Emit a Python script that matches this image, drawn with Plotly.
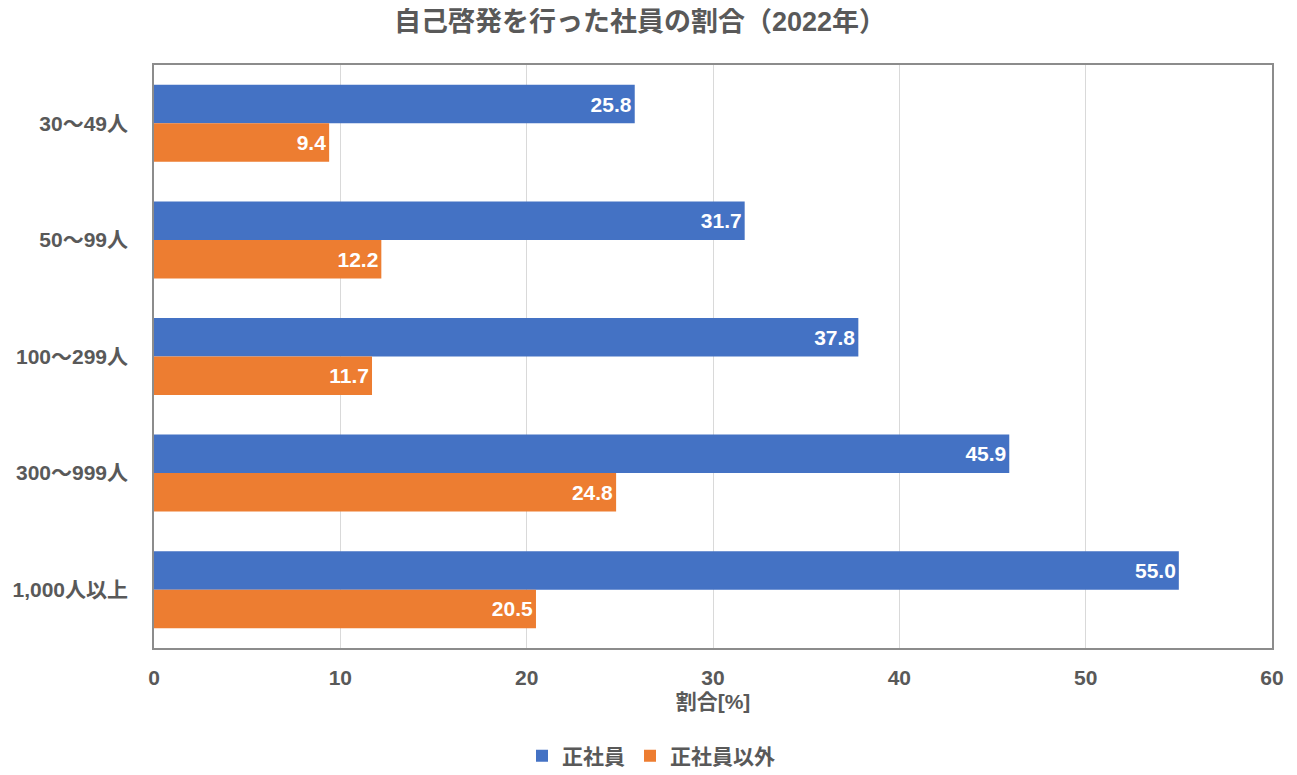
import plotly.graph_objects as go

categories = ["30～49人", "50～99人", "100～299人", "300～999人", "1,000人以上"]
regular = [25.8, 31.7, 37.8, 45.9, 55.0]
non_regular = [9.4, 12.2, 11.7, 24.8, 20.5]
series_names = ["正社員", "正社員以外"]
title = "自己啓発を行った社員の割合（2022年）"
x_title = "割合[%]"

FONT = "Liberation Sans, Noto Sans CJK JP"
NARROW = "Liberation Sans Narrow, Liberation Sans, Noto Sans CJK JP"
GRAY = "#595959"

# page has an 8px body margin; figure size/margins compensate
W, H = 1281, 759
L, R, T, B = 146, 17, 57, 119

fig = go.Figure()
for name, vals, color in [(series_names[0], regular, "#4472C4"),
                          (series_names[1], non_regular, "#ED7D31")]:
    fig.add_trace(go.Bar(
        y=categories, x=vals, name=name, orientation="h",
        marker=dict(color=color, line=dict(width=0)),
        text=[f"{v:.1f}" for v in vals], textposition="inside",
        insidetextanchor="end",
        textfont=dict(color="white", size=21, family=NARROW, weight="bold"),
        cliponaxis=False,
    ))

plot_h = H - T - B
plot_w = W - L - R
fig.update_layout(
    width=W, height=H,
    paper_bgcolor="white", plot_bgcolor="white",
    barmode="group", bargap=0.34, bargroupgap=0,
    margin=dict(l=L, r=R, t=T, b=B, autoexpand=False),
    font=dict(family=FONT, color=GRAY, size=21, weight="bold"),
    title=dict(text=title, x=(640 - 8) / W, xanchor="center",
               y=1 - 14 / H, yanchor="middle",
               font=dict(size=27, color=GRAY, family=FONT, weight="bold")),
    legend=dict(orientation="h", x=(651 - 154) / plot_w,
                xanchor="center", y=-(748 - (H - B)) / plot_h, yanchor="middle",
                font=dict(size=21, color=GRAY), traceorder="normal"),
    showlegend=True,
)
fig.update_xaxes(range=[0, 60], dtick=10, showgrid=True, gridcolor="#D9D9D9", gridwidth=1,
                 showline=True, linecolor="#8C8C8C", linewidth=1.5, mirror=True,
                 zeroline=False, ticks="", ticklabelstandoff=10, automargin=False,
                 title=dict(text=x_title, standoff=6, font=dict(size=21)),
                 tickfont=dict(size=21))
fig.update_yaxes(autorange="reversed", showline=True, linecolor="#8C8C8C", linewidth=1.5,
                 mirror=True, ticks="", tickfont=dict(size=21), ticklabelstandoff=20,
                 automargin=False)

fig.write_html("out.html")
